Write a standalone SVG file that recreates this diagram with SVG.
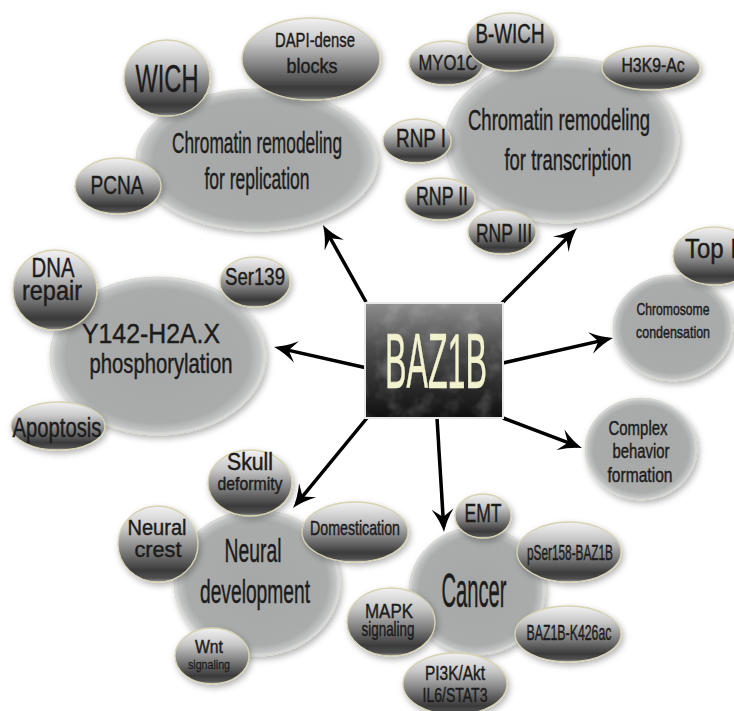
<svg xmlns="http://www.w3.org/2000/svg" width="734" height="711" viewBox="0 0 734 711">
<style>
.t{font-family:"Liberation Sans Narrow","Liberation Sans",Arial,sans-serif;text-anchor:middle;fill:#1c1c1c;stroke:#1c1c1c;stroke-width:0.45}
.big{fill:url(#gBig);stroke:#d4d4cc;stroke-width:1;filter:url(#sh)}
.sm{fill:url(#gSm);stroke:#d6d3b0;stroke-width:1.3;filter:url(#sh)}
.ar{stroke:#000;stroke-width:3.5;fill:none;marker-end:url(#ah)}
</style>
<defs>
<radialGradient id="gBig" cx="0.5" cy="0.5" r="0.5">
<stop offset="0" stop-color="#a6a8a7"/>
<stop offset="0.85" stop-color="#aaacab"/>
<stop offset="0.95" stop-color="#c3c5c4"/>
<stop offset="1" stop-color="#e2e2e2"/>
</radialGradient>
<linearGradient id="gSm" x1="0" y1="0" x2="0" y2="1">
<stop offset="0" stop-color="#f2f2f2"/>
<stop offset="0.3" stop-color="#c6c6c6"/>
<stop offset="0.6" stop-color="#7c7c7c"/>
<stop offset="0.85" stop-color="#3a3a3a"/>
<stop offset="0.95" stop-color="#505050"/>
<stop offset="1" stop-color="#9a9a9a"/>
</linearGradient>
<linearGradient id="gBox" x1="0" y1="0" x2="0" y2="1">
<stop offset="0" stop-color="#8e8e8e"/>
<stop offset="0.4" stop-color="#4a4a4a"/>
<stop offset="1" stop-color="#101010"/>
</linearGradient>
<filter id="sh" x="-20%" y="-20%" width="140%" height="150%">
<feDropShadow dx="2" dy="3" stdDeviation="3" flood-color="#000" flood-opacity="0.3"/>
</filter>
<filter id="tex" x="0" y="0" width="100%" height="100%">
<feTurbulence type="fractalNoise" baseFrequency="0.05" numOctaves="3" seed="4" result="n"/>
<feColorMatrix in="n" type="matrix" values="0 0 0 0 1  0 0 0 0 1  0 0 0 0 1  2 0 0 0 -0.9" result="m"/>
<feComposite in="m" in2="SourceAlpha" operator="in"/>
</filter>
<marker id="ah" viewBox="-20 -12 28 24" markerWidth="28" markerHeight="24" refX="0" refY="0" orient="auto" markerUnits="userSpaceOnUse">
<path d="M5,0 Q-6,-3 -18,-11 L-10,0 L-18,11 Q-6,3 5,0Z" fill="#000"/>
</marker>
</defs>
<rect width="734" height="711" fill="#fff"/>

<g id="connectors">
<line class="ar" x1="366" y1="302" x2="325.4" y2="229.4"/>
<line class="ar" x1="502" y1="303" x2="573.5" y2="231.5"/>
<line class="ar" x1="367" y1="368" x2="278.9" y2="348.1"/>
<line class="ar" x1="503" y1="363" x2="608.1" y2="339.1"/>
<line class="ar" x1="503" y1="418" x2="577.3" y2="446.2"/>
<line class="ar" x1="367" y1="418" x2="296.2" y2="504.1"/>
<line class="ar" x1="437" y1="418" x2="443.7" y2="527"/>
</g>

<g id="replication">
<ellipse class="big" cx="257" cy="160" rx="121" ry="71"/>
<text class="t" x="257" y="153" font-size="30" textLength="170" lengthAdjust="spacingAndGlyphs">Chromatin remodeling</text>
<text class="t" x="257" y="189" font-size="30" textLength="105" lengthAdjust="spacingAndGlyphs">for replication</text>
</g>
<g id="wich"><ellipse class="sm" cx="167" cy="78" rx="43" ry="38"/>
<text class="t" x="167" y="92" font-size="39" textLength="63" lengthAdjust="spacingAndGlyphs">WICH</text></g>
<g id="dapi"><ellipse class="sm" cx="311" cy="59" rx="69" ry="41"/>
<text class="t" x="315" y="47" font-size="21" textLength="80" lengthAdjust="spacingAndGlyphs">DAPI-dense</text>
<text class="t" x="312" y="73" font-size="21" textLength="51" lengthAdjust="spacingAndGlyphs">blocks</text></g>
<g id="pcna"><ellipse class="sm" cx="118" cy="186" rx="43" ry="28"/>
<text class="t" x="117" y="194" font-size="25" textLength="53" lengthAdjust="spacingAndGlyphs">PCNA</text></g>

<g id="transcription">
<ellipse class="big" cx="562" cy="140" rx="117" ry="83"/>
<text class="t" x="559" y="130" font-size="30" textLength="182" lengthAdjust="spacingAndGlyphs">Chromatin remodeling</text>
<text class="t" x="568" y="170" font-size="30" textLength="127" lengthAdjust="spacingAndGlyphs">for transcription</text>
</g>
<g id="myo1c"><ellipse class="sm" cx="446" cy="63" rx="37" ry="22"/>
<text class="t" x="448" y="70" font-size="22" textLength="59" lengthAdjust="spacingAndGlyphs">MYO1C</text></g>
<g id="bwich"><ellipse class="sm" cx="511" cy="42" rx="44" ry="29"/>
<text class="t" x="510" y="43" font-size="27" textLength="69" lengthAdjust="spacingAndGlyphs">B-WICH</text></g>
<g id="h3k9"><ellipse class="sm" cx="651" cy="68" rx="49" ry="22"/>
<text class="t" x="653" y="72" font-size="21" textLength="63" lengthAdjust="spacingAndGlyphs">H3K9-Ac</text></g>
<g id="rnp1"><ellipse class="sm" cx="417" cy="141" rx="34" ry="22"/>
<text class="t" x="421" y="147" font-size="26" textLength="50" lengthAdjust="spacingAndGlyphs">RNP I</text></g>
<g id="rnp2"><ellipse class="sm" cx="440" cy="199" rx="35" ry="21"/>
<text class="t" x="442" y="205" font-size="25" textLength="52" lengthAdjust="spacingAndGlyphs">RNP II</text></g>
<g id="rnp3"><ellipse class="sm" cx="502" cy="232" rx="34" ry="22"/>
<text class="t" x="504" y="242" font-size="26" textLength="56" lengthAdjust="spacingAndGlyphs">RNP III</text></g>

<g id="condensation">
<ellipse class="big" cx="673" cy="328" rx="60" ry="53"/>
<text class="t" x="673" y="315" font-size="17" textLength="73" lengthAdjust="spacingAndGlyphs">Chromosome</text>
<text class="t" x="673" y="338" font-size="17" textLength="74" lengthAdjust="spacingAndGlyphs">condensation</text>
</g>
<g id="top1"><ellipse class="sm" cx="714" cy="256" rx="41" ry="29"/>
<text x="685" y="258" font-size="28" style="font-family:'Liberation Sans Narrow','Liberation Sans',Arial,sans-serif;fill:#1c1c1c;stroke:#1c1c1c;stroke-width:0.45" textLength="52" lengthAdjust="spacingAndGlyphs">Top I</text></g>

<g id="behavior">
<ellipse class="big" cx="641" cy="449" rx="56" ry="51"/>
<text class="t" x="638" y="435" font-size="20" textLength="59" lengthAdjust="spacingAndGlyphs">Complex</text>
<text class="t" x="641" y="458" font-size="20" textLength="57" lengthAdjust="spacingAndGlyphs">behavior</text>
<text class="t" x="640" y="482" font-size="20" textLength="65" lengthAdjust="spacingAndGlyphs">formation</text>
</g>

<g id="h2ax">
<ellipse class="big" cx="158" cy="356" rx="108" ry="79"/>
<text class="t" x="151" y="343" font-size="28" textLength="138" lengthAdjust="spacingAndGlyphs">Y142-H2A.X</text>
<text class="t" x="161" y="373" font-size="28" textLength="143" lengthAdjust="spacingAndGlyphs">phosphorylation</text>
</g>
<g id="dnarepair"><ellipse class="sm" cx="55" cy="290" rx="42" ry="40"/>
<text class="t" x="53" y="277" font-size="27" textLength="43" lengthAdjust="spacingAndGlyphs">DNA</text>
<text class="t" x="52" y="300" font-size="27" textLength="60" lengthAdjust="spacingAndGlyphs">repair</text></g>
<g id="ser139"><ellipse class="sm" cx="255" cy="282" rx="35" ry="25"/>
<text class="t" x="255" y="285" font-size="23" textLength="60" lengthAdjust="spacingAndGlyphs">Ser139</text></g>
<g id="apoptosis"><ellipse class="sm" cx="58" cy="426" rx="47" ry="24"/>
<text class="t" x="57" y="437" font-size="27" textLength="89" lengthAdjust="spacingAndGlyphs">Apoptosis</text></g>

<g id="neural">
<ellipse class="big" cx="257" cy="583" rx="83" ry="73"/>
<text class="t" x="253" y="562" font-size="33" textLength="57" lengthAdjust="spacingAndGlyphs">Neural</text>
<text class="t" x="255" y="603" font-size="33" textLength="110" lengthAdjust="spacingAndGlyphs">development</text>
</g>
<g id="skull"><ellipse class="sm" cx="250" cy="483" rx="42" ry="33"/>
<text class="t" x="250" y="470" font-size="23" textLength="46" lengthAdjust="spacingAndGlyphs">Skull</text>
<text class="t" x="250" y="490" font-size="19" textLength="65" lengthAdjust="spacingAndGlyphs">deformity</text></g>
<g id="neuralcrest"><ellipse class="sm" cx="158" cy="544" rx="40" ry="38"/>
<text class="t" x="157" y="535" font-size="22" textLength="59" lengthAdjust="spacingAndGlyphs">Neural</text>
<text class="t" x="158" y="557" font-size="22" textLength="47" lengthAdjust="spacingAndGlyphs">crest</text></g>
<g id="domestication"><ellipse class="sm" cx="355" cy="532" rx="53" ry="30"/>
<text class="t" x="355" y="535" font-size="21" textLength="90" lengthAdjust="spacingAndGlyphs">Domestication</text></g>
<g id="wnt"><ellipse class="sm" cx="212" cy="656" rx="37" ry="28"/>
<text class="t" x="209" y="653" font-size="18" textLength="28" lengthAdjust="spacingAndGlyphs">Wnt</text>
<text class="t" x="209" y="669" font-size="13" textLength="42" lengthAdjust="spacingAndGlyphs" style="stroke-width:0.3">signaling</text></g>

<g id="cancer">
<ellipse class="big" cx="477" cy="591" rx="68" ry="64"/>
<text class="t" x="474" y="607" font-size="48" textLength="65" lengthAdjust="spacingAndGlyphs">Cancer</text>
</g>
<g id="mapk"><ellipse class="sm" cx="391" cy="622" rx="44" ry="34"/>
<text class="t" x="389" y="618" font-size="21" textLength="48" lengthAdjust="spacingAndGlyphs">MAPK</text>
<text class="t" x="388" y="636" font-size="21" textLength="53" lengthAdjust="spacingAndGlyphs">signaling</text></g>
<g id="emt"><ellipse class="sm" cx="483" cy="516" rx="28" ry="22"/>
<text class="t" x="483" y="522" font-size="26" textLength="37" lengthAdjust="spacingAndGlyphs">EMT</text></g>
<g id="pser158"><ellipse class="sm" cx="569" cy="552" rx="52" ry="30"/>
<text class="t" x="570" y="560" font-size="22" textLength="86" lengthAdjust="spacingAndGlyphs">pSer158-BAZ1B</text></g>
<g id="k426ac"><ellipse class="sm" cx="568" cy="634" rx="53" ry="28"/>
<text class="t" x="569" y="640" font-size="22" textLength="85" lengthAdjust="spacingAndGlyphs">BAZ1B-K426ac</text></g>
<g id="pi3k"><ellipse class="sm" cx="455" cy="684" rx="52" ry="31"/>
<text class="t" x="455" y="680" font-size="20" textLength="60" lengthAdjust="spacingAndGlyphs">PI3K/Akt</text>
<text class="t" x="455" y="702" font-size="20" textLength="65" lengthAdjust="spacingAndGlyphs">IL6/STAT3</text></g>

<g id="baz1b">
<rect x="365" y="303" width="138" height="115" fill="url(#gBox)" stroke="#e8e8e8" stroke-width="2"/>
<rect x="366" y="304" width="136" height="113" fill="#000" filter="url(#tex)" opacity="0.22"/>
<text class="t" x="436" y="388" font-size="78" style="fill:#f3f2cf;stroke:#f3f2cf;stroke-width:0.6" textLength="102" lengthAdjust="spacingAndGlyphs">BAZ1B</text>
</g>
</svg>
